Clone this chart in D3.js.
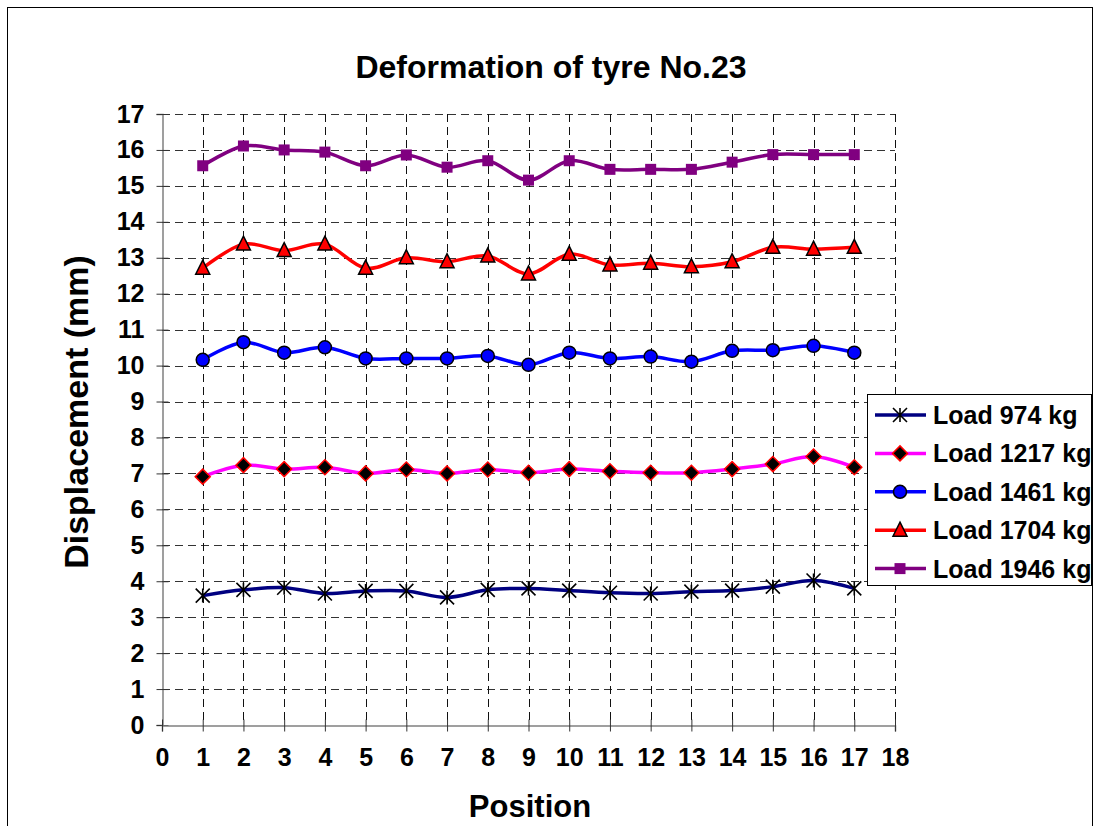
<!DOCTYPE html>
<html>
<head>
<meta charset="utf-8">
<script src="https://cdn.jsdelivr.net/npm/d3@7"></script>
<style>
  body { margin: 0; background: #fff; }
  svg text { font-family: "Liberation Sans", Arial, sans-serif; font-weight: bold; fill: #000; }
</style>
</head>
<body>
<svg id="chart" width="1094" height="826"></svg>
<script>
var positions = [1, 2, 3, 4, 5, 6, 7, 8, 9, 10, 11, 12, 13, 14, 15, 16, 17]

var load974  = [3.60, 3.76, 3.82, 3.66, 3.73, 3.73, 3.55, 3.76, 3.80, 3.74, 3.68, 3.66, 3.71, 3.74, 3.85, 4.02, 3.80]
var load1217 = [6.91, 7.23, 7.12, 7.17, 7.00, 7.11, 7.00, 7.11, 7.02, 7.12, 7.06, 7.02, 7.02, 7.12, 7.26, 7.47, 7.17]
var load1461 = [10.16, 10.65, 10.36, 10.51, 10.20, 10.20, 10.20, 10.27, 10.02, 10.36, 10.20, 10.25, 10.11, 10.41, 10.43, 10.55, 10.36]
var load1704 = [12.71, 13.38, 13.20, 13.38, 12.71, 13.00, 12.89, 13.05, 12.55, 13.10, 12.80, 12.85, 12.75, 12.89, 13.29, 13.24, 13.29]
var load1946 = [15.56, 16.11, 16.00, 15.94, 15.56, 15.86, 15.52, 15.70, 15.16, 15.70, 15.46, 15.46, 15.46, 15.66, 15.87, 15.87, 15.87]

var seriesNames = ["Load 974 kg", "Load 1217 kg", "Load 1461 kg", "Load 1704 kg", "Load 1946 kg"]
var xTicks = d3.range(0, 19)
var yTicks = d3.range(0, 18)

var series = [
  {name: seriesNames[0], values: load974,  color: "#000080", marker: "star"},
  {name: seriesNames[1], values: load1217, color: "#FF00FF", marker: "diamond"},
  {name: seriesNames[2], values: load1461, color: "#0000FF", marker: "circle"},
  {name: seriesNames[3], values: load1704, color: "#FF0000", marker: "triangle"},
  {name: seriesNames[4], values: load1946, color: "#800080", marker: "square"}
]

var svg = d3.select("#chart")

// outer chart frame
svg.append("rect")
    .attr("x", 7.5).attr("y", 7.5)
    .attr("width", 1085).attr("height", 840)
    .attr("fill", "none").attr("stroke", "#000").attr("stroke-width", 1)

var plotLeft = 162, plotRight = 895, plotTop = 114, plotBottom = 725

var x = d3.scaleLinear().domain([0, 18]).range([plotLeft, plotRight])
var y = d3.scaleLinear().domain([0, 17]).range([plotBottom, plotTop])

// grid lines
svg.append("g").selectAll("line.h")
    .data(yTicks.slice(1)).enter()
    .append("line")
        .attr("x1", plotLeft).attr("x2", plotRight)
        .attr("y1", function(d){ return Math.round(y(d)) + 0.5 })
        .attr("y2", function(d){ return Math.round(y(d)) + 0.5 })
        .attr("stroke", "#333")
        .attr("stroke-dasharray", "8,5")

svg.append("g").selectAll("line.v")
    .data(xTicks.slice(1)).enter()
    .append("line")
        .attr("y1", plotTop).attr("y2", plotBottom)
        .attr("x1", function(d){ return Math.round(x(d)) + 0.5 })
        .attr("x2", function(d){ return Math.round(x(d)) + 0.5 })
        .attr("stroke", "#111")
        .attr("stroke-dasharray", "8,5")

// axes
var yAxis = svg.append("g")
    .attr("transform", "translate(" + (plotLeft + 0.5) + ",0)")
    .call(d3.axisLeft(y).tickValues(yTicks).tickSize(6).tickPadding(12))
yAxis.select(".domain").attr("stroke", "#808080").attr("stroke-width", 1.5)
yAxis.selectAll(".tick line").attr("x1", 6).attr("stroke", "#333")
yAxis.selectAll(".tick text").attr("font-size", 25).style("font-family", "Liberation Sans, Arial, sans-serif").style("font-weight", "bold")

var xAxis = svg.append("g")
    .attr("transform", "translate(0," + (plotBottom + 0.5) + ")")
    .call(d3.axisBottom(x).tickValues(xTicks).tickSize(6).tickPadding(17))
xAxis.select(".domain").attr("stroke", "#808080").attr("stroke-width", 1.5)
xAxis.selectAll(".tick line").attr("y1", -6).attr("stroke", "#333")
xAxis.selectAll(".tick text").attr("font-size", 25).style("font-family", "Liberation Sans, Arial, sans-serif").style("font-weight", "bold")

// lines
var line = d3.line()
    .x(function(d, i){ return x(positions[i]) })
    .y(function(d){ return y(d) })
    .curve(d3.curveCatmullRom.alpha(0))

svg.append("g").selectAll("path.series")
    .data(series).enter()
    .append("path")
        .attr("d", function(d){ return line(d.values) })
        .attr("fill", "none")
        .attr("stroke", function(d){ return d.color })
        .attr("stroke-width", 3.5)

function drawMarker(g, type, cx, cy) {
  if (type == "star") {
    var s = 7
    g.append("path")
      .attr("d", "M" + (cx - s) + "," + (cy - s) + "L" + (cx + s) + "," + (cy + s) +
                 "M" + (cx - s) + "," + (cy + s) + "L" + (cx + s) + "," + (cy - s) +
                 "M" + cx + "," + (cy - s) + "L" + cx + "," + (cy + s))
      .attr("stroke", "#000").attr("stroke-width", 1.6).attr("fill", "none")
  } else if (type == "diamond") {
    var s = 7.5
    g.append("path")
      .attr("d", "M" + cx + "," + (cy - s) + "L" + (cx + s) + "," + cy + "L" + cx + "," + (cy + s) + "L" + (cx - s) + "," + cy + "Z")
      .attr("fill", "#000").attr("stroke", "#FF0000").attr("stroke-width", 1.5)
  } else if (type == "circle") {
    g.append("circle")
      .attr("cx", cx).attr("cy", cy).attr("r", 6.5)
      .attr("fill", "#0000FF").attr("stroke", "#000").attr("stroke-width", 1.5)
  } else if (type == "triangle") {
    var s = 7
    g.append("path")
      .attr("d", "M" + cx + "," + (cy - s - 1) + "L" + (cx + s) + "," + (cy + s - 1) + "L" + (cx - s) + "," + (cy + s - 1) + "Z")
      .attr("fill", "#FF0000").attr("stroke", "#000").attr("stroke-width", 1.5)
  } else if (type == "square") {
    var s = 5.5
    g.append("rect")
      .attr("x", cx - s).attr("y", cy - s).attr("width", 2 * s).attr("height", 2 * s)
      .attr("fill", "#800080")
  }
}

var markers = svg.append("g")
series.forEach(function(s) {
  s.values.forEach(function(v, i) {
    drawMarker(markers, s.marker, x(positions[i]), y(v))
  })
})

// title and axis labels
svg.append("text")
    .attr("x", 551).attr("y", 78)
    .attr("text-anchor", "middle")
    .attr("font-size", 32)
    .text("Deformation of tyre No.23")

svg.append("text")
    .attr("transform", "translate(88,412) rotate(-90)")
    .attr("text-anchor", "middle")
    .attr("font-size", 34)
    .text("Displacement (mm)")

svg.append("text")
    .attr("x", 530).attr("y", 817)
    .attr("text-anchor", "middle")
    .attr("font-size", 31)
    .text("Position")

// legend
var legend = svg.append("g")
legend.append("rect")
    .attr("x", 867.5).attr("y", 394.5)
    .attr("width", 224).attr("height", 191)
    .attr("fill", "#fff").attr("stroke", "#000").attr("stroke-width", 1)

series.forEach(function(s, i) {
  var cy = 415 + i * 38.4
  legend.append("line")
      .attr("x1", 875).attr("x2", 926)
      .attr("y1", cy).attr("y2", cy)
      .attr("stroke", s.color).attr("stroke-width", 3.5)
  drawMarker(legend, s.marker, 900, cy)
  legend.append("text")
      .attr("x", 933).attr("y", cy + 9)
      .attr("font-size", 25)
      .text(s.name)
})
</script>
</body>
</html>
